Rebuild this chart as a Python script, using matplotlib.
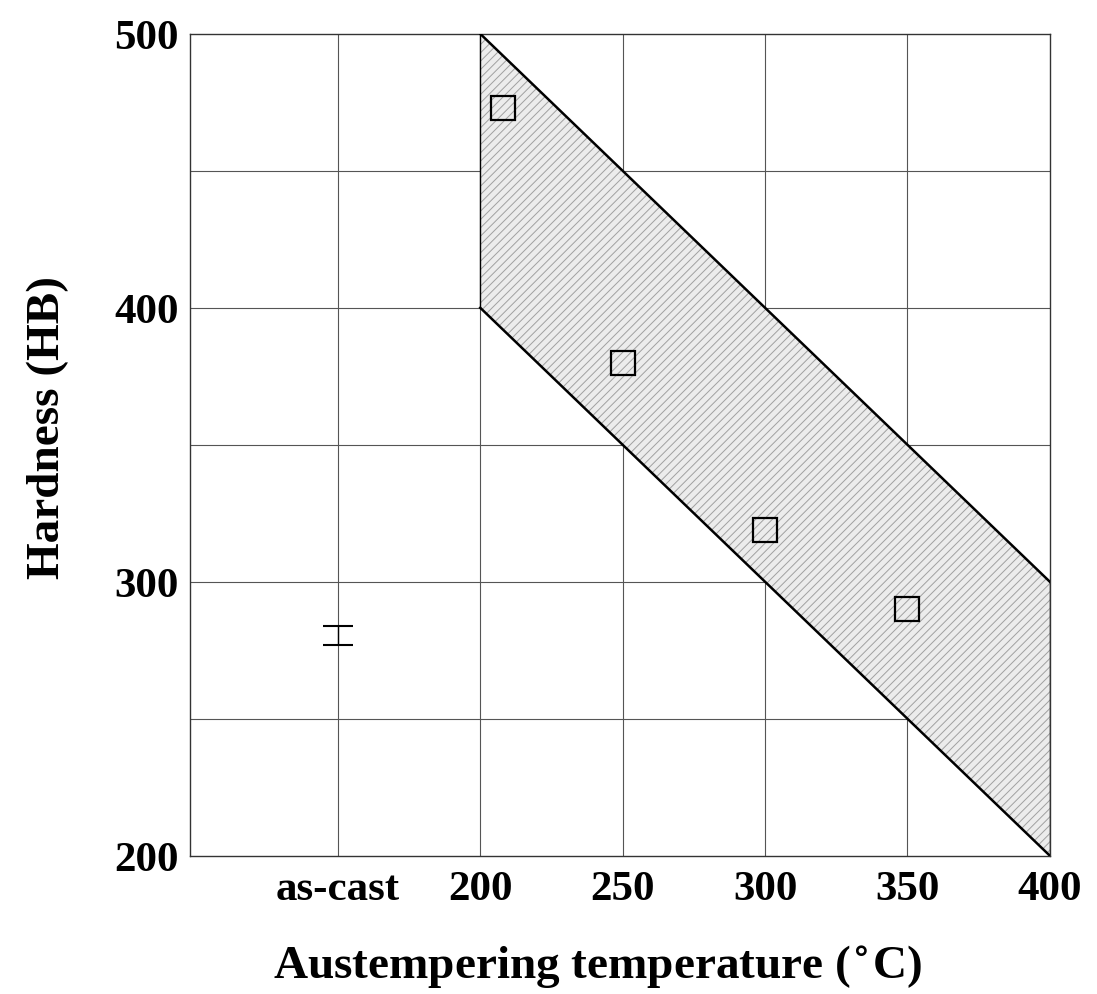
import matplotlib
matplotlib.use('Agg')
import matplotlib.pyplot as plt
import numpy as np

# band limits (HB) vs austempering temperature
band_temp = [200, 400]
band_upper = [500, 300]
band_lower = [400, 200]

# measured hardness
temps = [208, 250, 300, 350]
hardness = [473, 380, 319, 290]

# as-cast value, plotted at x=150
ascast_x = 150
ascast_hb = 280.5
ascast_err = 3.5

xtick_pos = [150, 200, 250, 300, 350, 400]
xtick_labels = ['as-cast', '200', '250', '300', '350', '400']
yticks = [200, 300, 400, 500]

plt.rcParams['font.family'] = ['Liberation Serif', 'DejaVu Serif']
plt.rcParams['font.weight'] = 'bold'
plt.rcParams['hatch.linewidth'] = 0.7

fig = plt.figure(figsize=(10.97, 9.95), dpi=100)
ax = fig.add_axes([0.173, 0.139, 0.784, 0.826])

# grid lines
for gx in [150, 200, 250, 300, 350]:
    ax.axvline(gx, color='#555555', lw=0.8, zorder=1)
for gy in [250, 300, 350, 400, 450]:
    ax.axhline(gy, color='#555555', lw=0.8, zorder=1)

# shaded band
ax.fill_between(band_temp, band_lower, band_upper, facecolor='#ececec',
                hatch='////', edgecolor='#a0a0a0', linewidth=0, zorder=2)
ax.plot(band_temp, band_upper, color='black', lw=1.8, zorder=3)
ax.plot(band_temp, band_lower, color='black', lw=1.8, zorder=3)
ax.plot([200, 200], [band_lower[0], band_upper[0]], color='black', lw=1.0, zorder=3)
ax.plot([400, 400], [band_lower[1], band_upper[1]], color='black', lw=1.0, zorder=3)

ax.plot(temps, hardness, linestyle='none', marker='s', markersize=17,
        markerfacecolor='none', markeredgecolor='black', markeredgewidth=1.6, zorder=4)

ax.errorbar([ascast_x], [ascast_hb], yerr=[ascast_err], fmt='none', ecolor='black',
            elinewidth=1.0, capsize=11, capthick=1.5, zorder=4)

ax.set_xlim(98, 400)
ax.set_ylim(200, 500)
ax.set_xticks(xtick_pos)
ax.set_xticklabels(xtick_labels)
ax.set_yticks(yticks)
ax.tick_params(length=0, labelsize=31)
ax.tick_params(axis='x', pad=10)
ax.tick_params(axis='y', pad=8)
for lab in ax.get_xticklabels() + ax.get_yticklabels():
    lab.set_fontweight('bold')

for s in ax.spines.values():
    s.set_linewidth(1.0)
    s.set_color('#333333')

ax.set_xlabel('Austempering temperature ($^{\\circ}$C)', fontsize=34, fontweight='bold')
ax.set_ylabel('Hardness (HB)', fontsize=34, fontweight='bold')
ax.xaxis.set_label_coords(0.474, -0.105)
ax.yaxis.set_label_coords(-0.14, 0.522)

fig.savefig('out.png', dpi=100)
